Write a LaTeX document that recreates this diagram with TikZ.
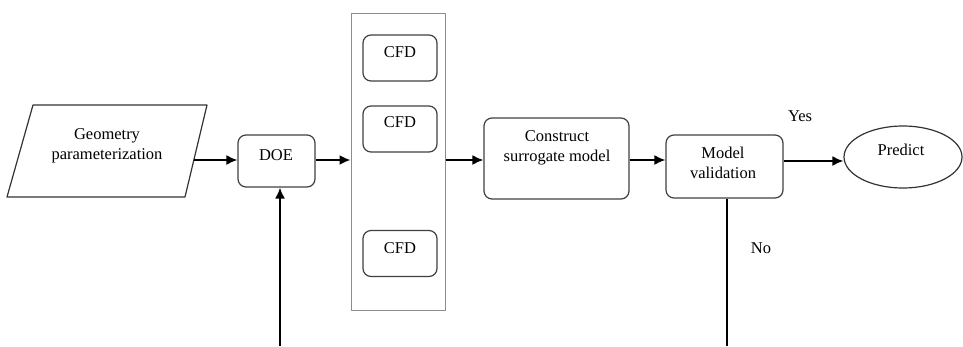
\documentclass[tikz,border=0pt]{standalone}
\usepackage{fontspec}
\setmainfont{Liberation Serif}
\usetikzlibrary{arrows.meta,shapes.geometric}
\tikzset{box/.style={draw=black!75,line width=1.2pt,rounded corners=8pt,inner sep=0pt},
	flow/.style={->,line width=1.8pt},
	txt/.style={align=center,inner sep=0pt}}
\begin{document}
\begin{tikzpicture}[x=1pt,y=-1pt,>={Latex[length=11pt,width=10pt]},line join=round,font=\fontsize{16.5}{19.5}\selectfont]
	\useasboundingbox (0,0) rectangle (963,346);
	\coordinate (axis) at (0,160);
	% input
	\draw[line width=1.2pt,draw=black!80] (33,105)--(207,105)--(185,197)--(7,197)--cycle;
	\coordinate (geoE) at (194,160);
	\node[txt] (lbGeo) at (107,146) {Geometry\\parameterization};
	% boxes
	\node[box,minimum width=77pt,minimum height=52pt] (doe) at (276.5,161) {};
	\node[txt] (lbDoe) at (276,155) {DOE};
	\node[draw=black!45,line width=1pt,minimum width=94pt,minimum height=297pt,inner sep=0pt] (panel) at (398,161.5) {};
	\node[box,minimum width=74pt,minimum height=46pt] (cfdA) at (400,58) {};
	\node[box,minimum width=74pt,minimum height=46pt] (cfdB) at (400,129) {};
	\node[box,minimum width=74pt,minimum height=46pt] (cfdC) at (400,253.5) {};
	\node[txt] (lbA) at (400,52) {CFD};
	\node[txt] (lbB) at (400,122) {CFD};
	\node[txt] (lbC) at (400,248) {CFD};
	\node[box,minimum width=145pt,minimum height=81pt] (cons) at (556.5,158.5) {};
	\node[txt] (lbCons) at (557,148) {Construct\\surrogate model};
	\node[box,minimum width=117pt,minimum height=63pt] (mv) at (724.5,166.5) {};
	\node[txt] (lbMv) at (723,163) {Model\\validation};
	\node[draw=black!80,line width=1.2pt,ellipse,minimum width=118pt,minimum height=62pt,inner sep=0pt] (pred) at (903,157) {};
	\node[txt] (lbPred) at (901,150) {Predict};
	\node[txt] (lbYes) at (800,116) {Yes};
	\node[txt] (lbNo) at (761,248) {No};
	% connectors
	\draw[flow] (geoE) -- (geoE -| doe.west);
	\draw[flow] (doe.east |- axis) -- (panel.west |- axis);
	\draw[flow] (panel.east |- axis) -- (cons.west |- axis);
	\draw[flow] (cons.east |- axis) -- (mv.west |- axis);
	\draw[flow] (mv.east |- 0,161) -- (pred.west |- 0,161);
	\coordinate (loopA) at (280,346);
	\coordinate (loopB) at (727,346);
	\draw[flow] (loopA) -- (loopA |- doe.south);
	\draw[line width=1.8pt] (loopB |- mv.south) -- (loopB);
\end{tikzpicture}
\end{document}
